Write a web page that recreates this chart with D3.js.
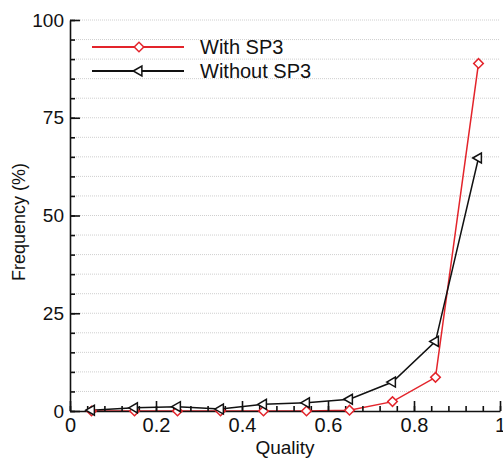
<!DOCTYPE html>
<html>
<head>
<meta charset="utf-8">
<script src="https://cdn.jsdelivr.net/npm/d3@7"></script>
<style>
  body { margin: 0; background: #fff; }
  svg { display: block; font-family: "Liberation Sans", Arial, sans-serif; }
</style>
</head>
<body>
<div id="chart"></div>
<script>
const width = 503;
const height = 459;
const margin = { top: 20, bottom: 48, left: 70, right: 3 };

// quality bins (bin centres)
const quality = [0.05, 0.15, 0.25, 0.35, 0.45, 0.55, 0.65, 0.75, 0.85, 0.95];
const withSP3 = [0, 0, 0, 0, 0, 0, 0.2, 2.4, 8.6, 88.9];
const withoutSP3 = [0.2, 0.8, 1.1, 0.5, 1.7, 2.1, 3.0, 7.4, 17.8, 64.7];
const seriesNames = ['With SP3', 'Without SP3'];
const xTicks = [0, 0.2, 0.4, 0.6, 0.8, 1];
const yTicks = [0, 25, 50, 75, 100];

const red = '#e3242b';

const svg = d3.select('#chart')
  .append('svg')
  .attr('width', width)
  .attr('height', height);

const x = d3.scaleLinear()
  .domain([0, 1])
  .range([margin.left, width - margin.right]);

const y = d3.scaleLinear()
  .domain([0, 100])
  .range([height - margin.bottom, margin.top]);

// dotted grid every 5 %
svg.append('g')
  .selectAll('line')
  .data(d3.range(5, 101, 5))
  .join('line')
    .attr('x1', x(0))
    .attr('x2', x(1))
    .attr('y1', d => y(d))
    .attr('y2', d => y(d))
    .attr('stroke', '#cfcfcf')
    .attr('stroke-width', 1)
    .attr('stroke-dasharray', '1,1');

const line = d3.line()
  .x(d => x(d[0]))
  .y(d => y(d[1]));

const redPts = quality.map((q, i) => [q, withSP3[i]]);
const blackPts = quality.map((q, i) => [q, withoutSP3[i]]);

svg.append('path')
  .datum(redPts)
  .attr('fill', 'none')
  .attr('stroke', red)
  .attr('stroke-width', 1.5)
  .attr('d', line);

// axes: minor ticks, then major ticks + labels
function xMinor(g) {
  g.attr('transform', `translate(0,${y(0)})`)
    .call(d3.axisBottom(x).tickValues(d3.range(0, 1.001, 0.04)).tickSize(-5).tickFormat(''))
    .call(g => g.select('.domain').remove());
}
function yMinor(g) {
  g.attr('transform', `translate(${x(0)},0)`)
    .call(d3.axisLeft(y).tickValues(d3.range(0, 101, 5)).tickSize(-5).tickFormat(''))
    .call(g => g.select('.domain').remove());
}
function xAkse(g) {
  g.attr('transform', `translate(0,${y(0)})`)
    .call(d3.axisBottom(x).tickValues(xTicks).tickSize(-10).tickSizeOuter(0).tickPadding(7)
      .tickFormat(d => d3.format('')(d)))
    .attr('font-size', '20px')
    .attr('font-family', null);
}
function yAkse(g) {
  g.attr('transform', `translate(${x(0)},0)`)
    .call(d3.axisLeft(y).tickValues(yTicks).tickSize(-10).tickSizeOuter(0).tickPadding(6))
    .attr('font-size', '19px')
    .attr('font-family', null);
}

svg.append('g').call(xMinor);
svg.append('g').call(yMinor);
svg.append('g').call(xAkse);
svg.append('g').call(yAkse);
svg.selectAll('.domain, .tick line').attr('stroke', '#111').attr('stroke-width', 1.6);
svg.selectAll('.tick text').attr('fill', '#111');

svg.append('path')
  .datum(blackPts)
  .attr('fill', 'none')
  .attr('stroke', '#111')
  .attr('stroke-width', 1.5)
  .attr('d', line);

const diamond = d3.symbol().type(d3.symbolSquare).size(46);
const triangle = d3.symbol().type(d3.symbolTriangle).size(43);

svg.append('g')
  .selectAll('path')
  .data(redPts)
  .join('path')
    .attr('d', diamond)
    .attr('transform', d => `translate(${x(d[0])},${y(d[1])}) rotate(45)`)
    .attr('fill', '#fff')
    .attr('stroke', red)
    .attr('stroke-width', 1.5);

svg.append('g')
  .selectAll('path')
  .data(blackPts)
  .join('path')
    .attr('d', triangle)
    .attr('transform', d => `translate(${x(d[0])},${y(d[1])}) rotate(-90)`)
    .attr('fill', '#fff')
    .attr('stroke', '#111')
    .attr('stroke-width', 1.5);

// legend
const legend = svg.append('g');
const legendItems = [
  { name: seriesNames[0], color: red, sym: diamond, rot: 45, y: 47 },
  { name: seriesNames[1], color: '#111', sym: triangle, rot: -90, y: 71 },
];
legendItems.forEach(it => {
  legend.append('line')
    .attr('x1', 92).attr('x2', 184)
    .attr('y1', it.y).attr('y2', it.y)
    .attr('stroke', it.color).attr('stroke-width', 1.8);
  legend.append('path')
    .attr('d', it.sym)
    .attr('transform', `translate(139,${it.y}) rotate(${it.rot})`)
    .attr('fill', '#fff')
    .attr('stroke', it.color)
    .attr('stroke-width', 1.5);
  legend.append('text')
    .attr('x', 200)
    .attr('y', it.y + 7)
    .attr('font-size', '20px')
    .attr('fill', '#111')
    .text(it.name);
});

// axis titles
svg.append('text')
  .attr('x', 285)
  .attr('y', 454)
  .attr('text-anchor', 'middle')
  .attr('font-size', '19px')
  .attr('fill', '#111')
  .text('Quality');

svg.append('text')
  .attr('transform', 'translate(25,222) rotate(-90)')
  .attr('text-anchor', 'middle')
  .attr('font-size', '18px')
  .attr('fill', '#111')
  .text('Frequency (%)');
</script>
</body>
</html>
